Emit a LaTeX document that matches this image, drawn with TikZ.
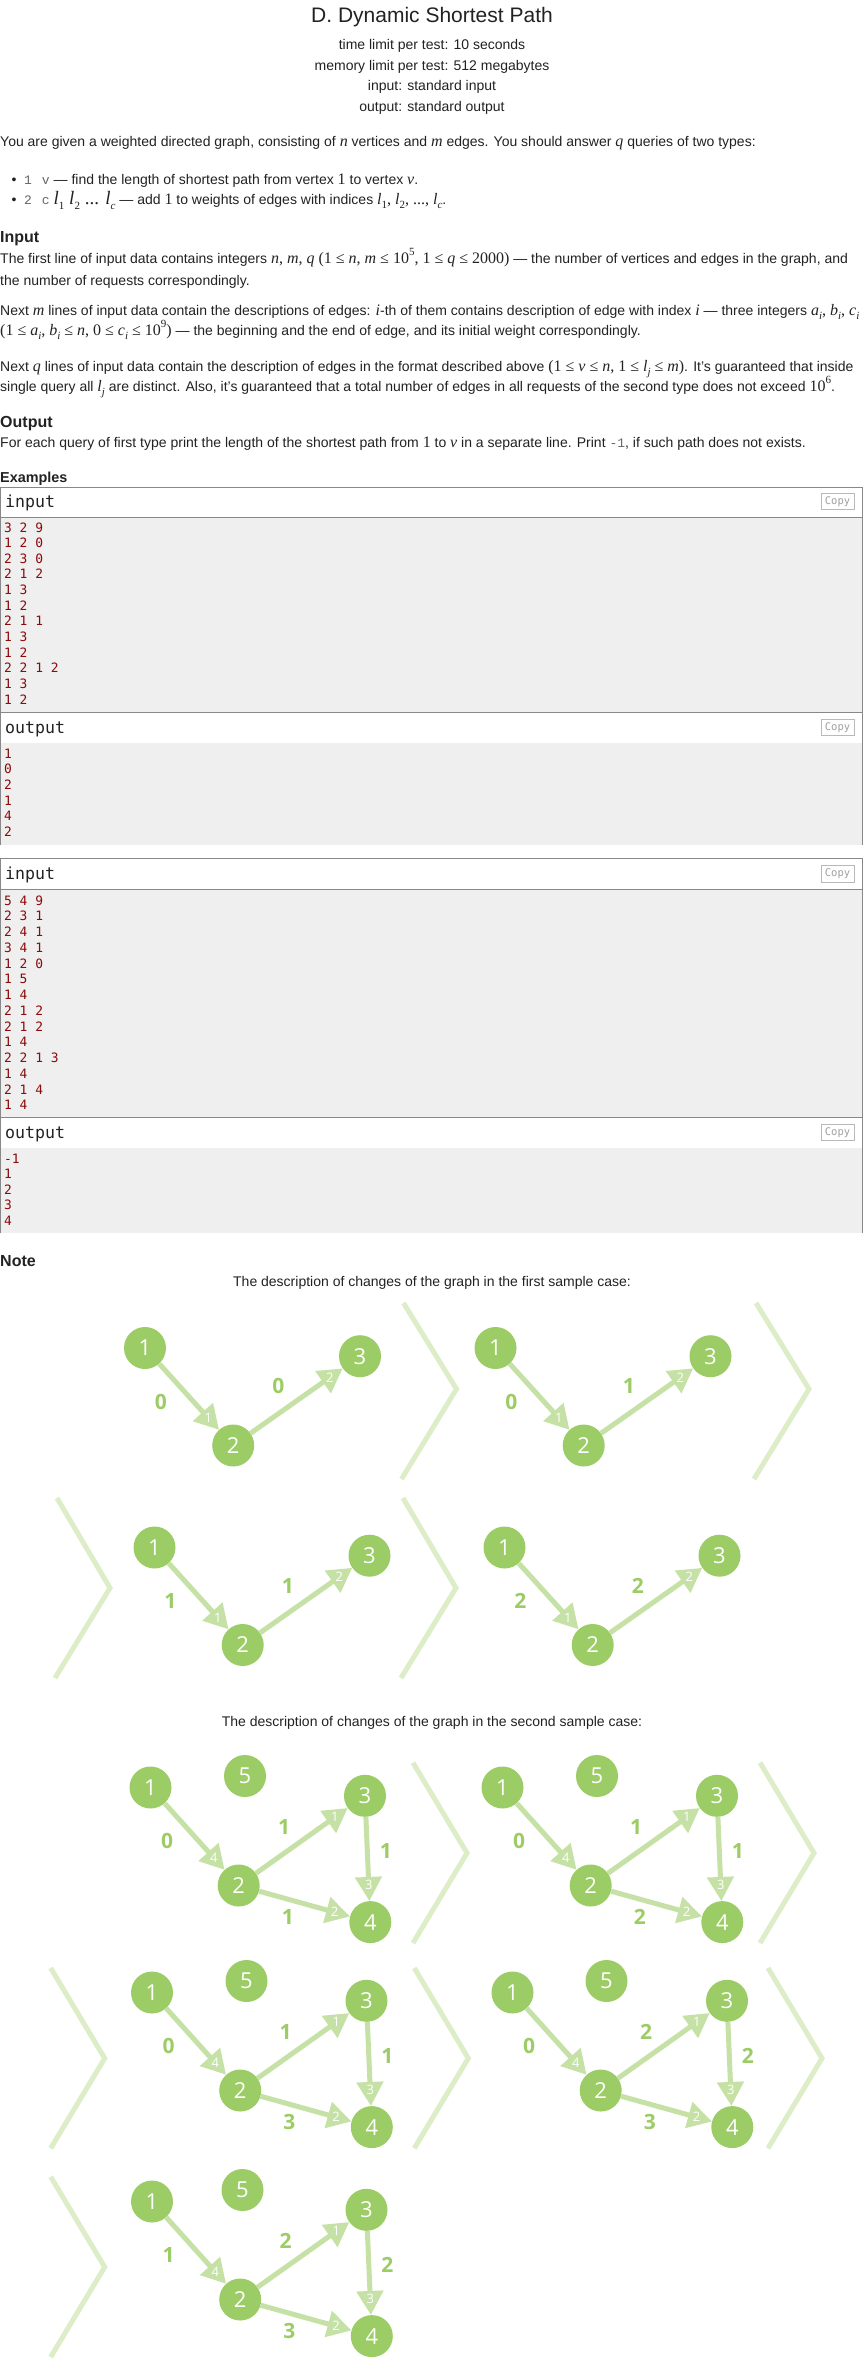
\documentclass[tikz,border=0pt]{standalone}
\usepackage{fontspec}
\setmainfont{Liberation Sans}
\newfontfamily\mathfnt{Liberation Serif}
\newfontfamily\courfnt{Liberation Mono}
\newfontfamily\exfnt{DejaVu Sans Mono}
\newfontfamily\graphfnt{Open Sans}
\usetikzlibrary{arrows.meta,calc}

\definecolor{nodegreen}{HTML}{9CCC65}
\definecolor{edgegreen}{HTML}{C5E1A5}
\definecolor{chevgreen}{HTML}{DCEDC8}
\definecolor{textdark}{HTML}{222222}
\definecolor{exred}{HTML}{8B0A0A}
\definecolor{exgray}{HTML}{EFEFEF}
\definecolor{boxgray}{HTML}{888888}
\definecolor{ttgray}{HTML}{666666}

\newcommand{\mth}[1]{{\mathfnt\fontsize{16}{16}\selectfont #1}}
\newcommand{\bigmth}[1]{{\mathfnt\fontsize{19}{19}\selectfont #1}}
\newcommand{\msub}[1]{\raisebox{-0.25em}{\fontsize{11}{11}\selectfont #1}}
\newcommand{\msup}[1]{\raisebox{0.45em}{\fontsize{11}{11}\selectfont #1}}
\newcommand{\cftt}[1]{{\courfnt\fontsize{13}{13}\selectfont\color{ttgray}#1}}

\begin{document}
\begin{tikzpicture}[x=1pt, y=-1pt,
  txt/.style={anchor=base west, inner sep=0pt, text=textdark, font=\fontsize{14}{17}\selectfont},
  ctr/.style={txt, anchor=base},
  head/.style={txt, font=\bfseries\fontsize{16}{19}\selectfont},
  boxline/.style={draw=boxgray, line width=1pt},
  hdr/.style={anchor=base west, inner sep=0pt, text=textdark, font=\exfnt\fontsize{16.6}{20}\selectfont},
  ex/.style={anchor=base west, inner sep=0pt, text=exred, font=\exfnt\fontsize{12.9}{15}\selectfont},
  copybtn/.style={draw=gray!55, text=gray!75, line width=0.8pt, minimum width=33pt, minimum height=16.5pt, inner sep=0pt, font=\exfnt\fontsize{10.5}{11}\selectfont},
  vtx/.style={circle, fill=nodegreen, minimum size=42pt, inner sep=0pt, text=white, font=\graphfnt\fontsize{22}{22}\selectfont},
  edg/.style={draw=edgegreen, line width=5pt, -{Triangle[length=24pt,width=26pt]}},
  wgt/.style={inner sep=0pt, text=nodegreen, font=\graphfnt\bfseries\fontsize{21}{21}\selectfont},
  idx/.style={inner sep=0pt, text=white, font=\graphfnt\fontsize{13}{13}\selectfont},
  chev/.style={draw=chevgreen, line width=5pt}]
\useasboundingbox (0,0) rectangle (864,2365);
\fill[white] (0,0) rectangle (864,2365);

% header
\node[ctr, font=\fontsize{21}{25}\selectfont] (title) at (432,22.5) {D. Dynamic Shortest Path};
\node[ctr] (tl) at (432,49.5) {time limit per test: 10 seconds};
\node[ctr] (ml) at (432,70.5) {memory limit per test: 512 megabytes};
\node[ctr] (il) at (432,91) {input: standard input};
\node[ctr] (ol) at (432,112) {output: standard output};

% statement
\node[txt] (intro) at (0,147) {You are given a weighted directed graph, consisting of \mth{\textit{n}} vertices and \mth{\textit{m}} edges. You should answer \mth{\textit{q}} queries of two types:};
\node[txt] (b1dot) at (11.5,185) {\textbullet};
\node[txt] (b1) at (24,185) {\cftt{1\hspace{10pt}v} — find the length of shortest path from vertex \mth{1} to vertex \mth{\textit{v}}.};
\node[txt] (b2dot) at (11.5,205) {\textbullet};
\node[txt] (b2) at (24,205) {\cftt{2\hspace{10pt}c} \bigmth{\textit{l}\msub{1} \textit{l}\msub{2} ... \textit{l}\msub{\textit{c}}} — add \mth{1} to weights of edges with indices \mth{\textit{l}\msub{1}, \textit{l}\msub{2}, ..., \textit{l}\msub{\textit{c}}}.};

\node[head] (hin) at (0,243) {Input};
\node[txt] (p1a) at (0,263) {The first line of input data contains integers \mth{\textit{n}, \textit{m}, \textit{q} (1 ≤ \textit{n}, \textit{m} ≤ 10\msup{5}, 1 ≤ \textit{q} ≤ 2000)} — the number of vertices and edges in the graph, and};
\node[txt] (p1b) at (0,285) {the number of requests correspondingly.};
\node[txt] (p2a) at (0,315) {Next \mth{\textit{m}} lines of input data contain the descriptions of edges: \mth{\textit{i}}-th of them contains description of edge with index \mth{\textit{i}} — three integers \mth{\textit{a}\msub{\textit{i}}, \textit{b}\msub{\textit{i}}, \textit{c}\msub{\textit{i}}}};
\node[txt] (p2b) at (0,335) {\mth{(1 ≤ \textit{a}\msub{\textit{i}}, \textit{b}\msub{\textit{i}} ≤ \textit{n}, 0 ≤ \textit{c}\msub{\textit{i}} ≤ 10\msup{9})} — the beginning and the end of edge, and its initial weight correspondingly.};
\node[txt] (p3a) at (0,371) {Next \mth{\textit{q}} lines of input data contain the description of edges in the format described above \mth{(1 ≤ \textit{v} ≤ \textit{n}, 1 ≤ \textit{l}\msub{\textit{j}} ≤ \textit{m})}. It's guaranteed that inside};
\node[txt] (p3b) at (0,391) {single query all \mth{\textit{l}\msub{\textit{j}}} are distinct. Also, it's guaranteed that a total number of edges in all requests of the second type does not exceed \mth{10\msup{6}}.};
\node[head] (hout) at (0,427) {Output};
\node[txt] (p4) at (0,447) {For each query of first type print the length of the shortest path from \mth{1} to \mth{\textit{v}} in a separate line. Print \cftt{-1}, if such path does not exists.};
\node[txt, font=\bfseries\fontsize{14.4}{17}\selectfont] (hex) at (0,482) {Examples};

% first example
\draw[boxline, fill=white] (0.5,487.5) rectangle (862.5,517);
\draw[boxline, fill=exgray] (0.5,517) rectangle (862.5,712);
\draw[boxline, fill=white] (0.5,712) rectangle (862.5,743);
\fill[exgray] (0.5,743) rectangle (862.5,845);
\draw[boxline] (0.5,743) -- (0.5,845);
\draw[boxline] (862.5,743) -- (862.5,845);
\node[hdr] (in1) at (5,507) {input};
\node[copybtn] (cp1) at (837.5,501.5) {Copy};
\node[hdr] (out1) at (5,733) {output};
\node[copybtn] (cp2) at (837.5,727.5) {Copy};
\foreach \s [count=\k] in {3 2 9, 1 2 0, 2 3 0, 2 1 2, 1 3, 1 2, 2 1 1, 1 3, 1 2, 2 2 1 2, 1 3, 1 2}
  \node[ex] (ia\k) at (4,{532+15.64*(\k-1)}) {\s};
\foreach \s [count=\k] in {1, 0, 2, 1, 4, 2}
  \node[ex] (oa\k) at (4,{758+15.7*(\k-1)}) {\s};

% second example
\draw[boxline, fill=white] (0.5,858.5) rectangle (862.5,889);
\draw[boxline, fill=exgray] (0.5,889) rectangle (862.5,1117);
\draw[boxline, fill=white] (0.5,1117) rectangle (862.5,1148);
\fill[exgray] (0.5,1148) rectangle (862.5,1233);
\draw[boxline] (0.5,1148) -- (0.5,1233);
\draw[boxline] (862.5,1148) -- (862.5,1233);
\node[hdr] (in2) at (5,879) {input};
\node[copybtn] (cp3) at (837.5,874) {Copy};
\node[hdr] (out2) at (5,1138) {output};
\node[copybtn] (cp4) at (837.5,1132.5) {Copy};
\foreach \s [count=\k] in {5 4 9, 2 3 1, 2 4 1, 3 4 1, 1 2 0, 1 5, 1 4, 2 1 2, 2 1 2, 1 4, 2 2 1 3, 1 4, 2 1 4, 1 4}
  \node[ex] (ib\k) at (4,{905+15.75*(\k-1)}) {\s};
\foreach \s [count=\k] in {-1, 1, 2, 3, 4}
  \node[ex] (ob\k) at (4,{1163+15.6*(\k-1)}) {\s};

% note
\node[head] (hnote) at (0,1266) {Note};
\node[ctr] (cap1) at (432,1286) {The description of changes of the graph in the first sample case:};
\node[ctr] (cap2) at (432,1726) {The description of changes of the graph in the second sample case:};

% first sample
\foreach \ax/\ay/\t in {456.5/1389/86, 809/1389/86, 110/1588/90, 456/1588/90}
  \draw[chev] (\ax-53,\ay-\t) -- (\ax,\ay) -- (\ax-55,\ay+90);
\foreach \px/\py/\wtA/\wtB [count=\k] in {145/1348/0/0, 495.5/1348/0/1, 154.5/1547.5/1/1, 504.5/1547.5/2/2} {
  \begin{scope}[shift={(\px,\py)}, name prefix=f\k-]
    \node[vtx] (v1) at (0,0) {1};
    \node[vtx] (v2) at (88.2,97.5) {2};
    \node[vtx] (v3) at (215,8.2) {3};
    \draw[edg] (v1) -- (v2);
    \draw[edg] (v2) -- (v3);
    \node[wgt] (w1) at (15.8,53.5) {\wtA};
    \node[wgt] (w2) at (133.3,38.3) {\wtB};
    \node[idx] (i1) at ($(v2)!37pt!(v1)$) {1};
    \node[idx] (i2) at ($(v3)!37pt!(v2)$) {2};
  \end{scope}
}

% second sample
\foreach \ax/\ay in {467/1853, 814/1853, 104.7/2058.3, 468.3/2058.3, 822/2058.3, 104.7/2267}
  \draw[chev] (\ax-54,\ay-90.3) -- (\ax,\ay) -- (\ax-54,\ay+90);
\foreach \px/\py/\fx/\wtA/\wtB/\wtC/\wtD [count=\k] in {150.5/1787.5/94.5/0/1/1/1, 502.5/1787.5/94.5/0/1/1/2, 152/1992.5/94.5/0/1/1/3, 512.5/1992.5/94/0/2/2/3, 152/2201.5/90.5/1/2/2/3} {
  \begin{scope}[shift={(\px,\py)}, name prefix=s\k-]
    \node[vtx] (v1) at (0,0) {1};
    \node[vtx] (v5) at (\fx,-11.5) {5};
    \node[vtx] (v3) at (214.5,8.3) {3};
    \node[vtx] (v2) at (88.2,98) {2};
    \node[vtx] (v4) at (219.8,134.6) {4};
    \draw[edg] (v1) -- (v2);
    \draw[edg] (v2) -- (v3);
    \draw[edg] (v3) -- (v4);
    \draw[edg] (v2) -- (v4);
    \node[wgt] (w4) at (16.6,53.3) {\wtA};
    \node[wgt] (w1) at (133.5,39) {\wtB};
    \node[wgt] (w3) at (235.3,63.3) {\wtC};
    \node[wgt] (w2) at (137.4,129.8) {\wtD};
    \node[idx] (i4) at ($(v2)!37pt!(v1)$) {4};
    \node[idx] (i1) at ($(v3)!37pt!(v2)$) {1};
    \node[idx] (i3) at ($(v4)!37pt!(v3)$) {3};
    \node[idx] (i2) at ($(v4)!37pt!(v2)$) {2};
  \end{scope}
}
\end{tikzpicture}
\end{document}
